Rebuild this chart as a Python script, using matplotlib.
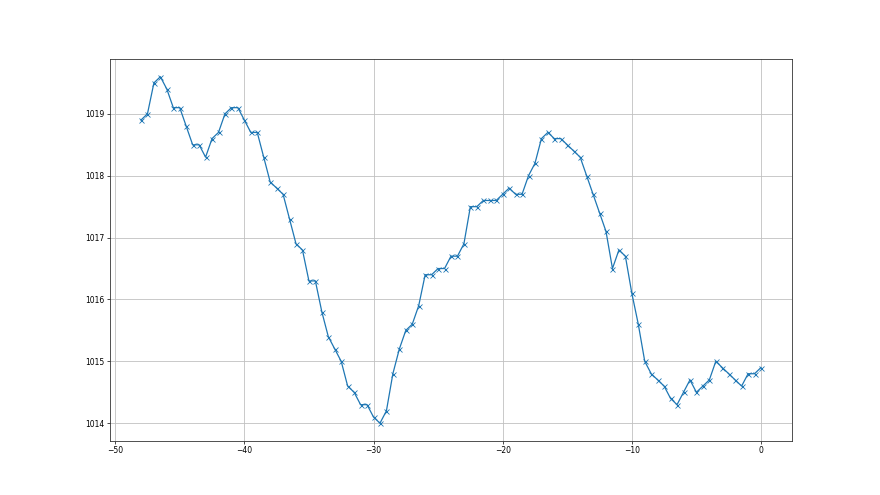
import numpy as np
import matplotlib
matplotlib.use("Agg")
import matplotlib.pyplot as plt

# hours relative to now (step 0.5 h)
hours = np.arange(-48, 0.01, 0.5)

pressure = [
    1018.9, 1019.0, 1019.5, 1019.6, 1019.4, 1019.1, 1019.1, 1018.8, 1018.5, 1018.5,
    1018.3, 1018.6, 1018.7, 1019.0, 1019.1, 1019.1, 1018.9, 1018.7, 1018.7, 1018.3,
    1017.9, 1017.8, 1017.7, 1017.3, 1016.9, 1016.8, 1016.3, 1016.3, 1015.8, 1015.4,
    1015.2, 1015.0, 1014.6, 1014.5, 1014.3, 1014.3, 1014.1, 1014.0, 1014.2, 1014.8,
    1015.2, 1015.5, 1015.6, 1015.9, 1016.4, 1016.4, 1016.5, 1016.5, 1016.7, 1016.7,
    1016.9, 1017.5, 1017.5, 1017.6, 1017.6, 1017.6, 1017.7, 1017.8, 1017.7, 1017.7,
    1018.0, 1018.2, 1018.6, 1018.7, 1018.6, 1018.6, 1018.5, 1018.4, 1018.3, 1018.0,
    1017.7, 1017.4, 1017.1, 1016.5, 1016.8, 1016.7, 1016.1, 1015.6, 1015.0, 1014.8,
    1014.7, 1014.6, 1014.4, 1014.3, 1014.5, 1014.7, 1014.5, 1014.6, 1014.7, 1015.0,
    1014.9, 1014.8, 1014.7, 1014.6, 1014.8, 1014.8, 1014.9,
]

xticks = [-50, -40, -30, -20, -10, 0]
yticks = [1014, 1015, 1016, 1017, 1018, 1019]

fig, ax = plt.subplots(figsize=(8.8, 4.95), dpi=100)
ax.plot(hours, pressure, color="#1f77b4", marker="x", markersize=3.6,
        markeredgewidth=0.6, linewidth=0.9)
ax.set_xticks(xticks)
ax.set_yticks(yticks)
ax.grid(True, color="#c0c0c0", linewidth=0.6)
ax.tick_params(labelsize=5.5, length=2.2, width=0.5, pad=2)
for s in ax.spines.values():
    s.set_linewidth(0.6)
    s.set_color("#333333")
fig.savefig("out.png", dpi=100)
